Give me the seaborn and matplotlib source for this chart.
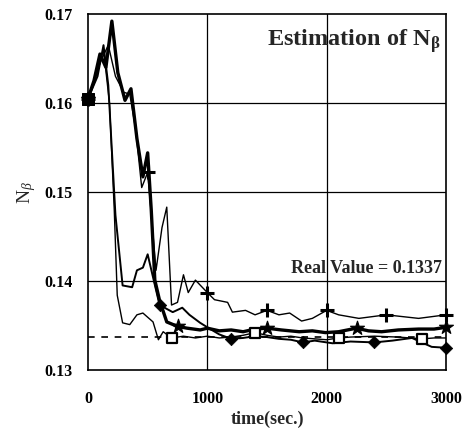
import numpy as np
import pandas as pd
import matplotlib
matplotlib.use("Agg")
import matplotlib.pyplot as plt
import seaborn as sns

# ---- data ----
plus_t = [0, 50, 100, 170, 230, 300, 350, 400, 450, 500, 540, 570, 620, 660, 700, 750, 800, 840, 900, 1000,
          1060, 1170, 1210, 1320, 1400, 1500, 1600, 1690, 1790, 1880, 2000, 2100, 2270, 2500, 2770, 3000]
plus_y = [0.1605, 0.1625, 0.1645, 0.1665, 0.1630, 0.1612, 0.1610, 0.1570, 0.1505, 0.1522, 0.1460, 0.1412,
          0.1460, 0.1483, 0.1373, 0.1376, 0.1407, 0.1387, 0.1401, 0.1387, 0.1379, 0.1376, 0.1365, 0.1367,
          0.1362, 0.1367, 0.1362, 0.1364, 0.1355, 0.1358, 0.1367, 0.1362, 0.1358, 0.1362, 0.1358, 0.1362]
plus_marks = [0, 500, 1000, 1500, 2000, 2500, 3000]

star_t = [0, 50, 100, 150, 200, 250, 310, 360, 410, 460, 500, 530, 560, 600, 660, 750, 830, 940, 1000,
          1100, 1200, 1300, 1400, 1500, 1620, 1770, 1880, 1990, 2100, 2250, 2350, 2460, 2600, 2770, 2900, 3000]
star_y = [0.1605, 0.1625, 0.1655, 0.1640, 0.1692, 0.1634, 0.1603, 0.1616, 0.1560, 0.1517, 0.1544, 0.1480,
          0.1401, 0.1378, 0.1354, 0.1349, 0.1347, 0.1345, 0.1347, 0.1344, 0.1345, 0.1343, 0.1346, 0.1347,
          0.1345, 0.1343, 0.1344, 0.1342, 0.1343, 0.1347, 0.1344, 0.1343, 0.1345, 0.1346, 0.1346, 0.1348]
star_marks = [0, 750, 1500, 2250, 3000]

diamond_t = [0, 80, 130, 170, 230, 290, 370, 410, 460, 500, 540, 600, 710, 790, 850, 940, 1000, 1100,
             1200, 1300, 1400, 1500, 1600, 1700, 1800, 1900, 2050, 2200, 2400, 2550, 2715, 2880, 3000]
diamond_y = [0.1605, 0.1630, 0.1665, 0.1620, 0.1474, 0.1395, 0.1393, 0.1412, 0.1415, 0.1430, 0.1407,
             0.1373, 0.1365, 0.1370, 0.1362, 0.1353, 0.1348, 0.1340, 0.1335, 0.1336, 0.1338, 0.1337,
             0.1335, 0.1334, 0.1331, 0.1333, 0.1330, 0.1332, 0.1331, 0.1333, 0.1336, 0.1326, 0.1325]
diamond_marks = [0, 600, 1200, 1800, 2400, 3000]

square_t = [0, 80, 130, 180, 220, 245, 290, 350, 410, 460, 545, 590, 630, 700, 800, 900, 1000, 1100,
            1200, 1300, 1400, 1500, 1600, 1700, 1800, 1900, 2000, 2100, 2200, 2400, 2600, 2800, 2900, 3000]
square_y = [0.1605, 0.1635, 0.1660, 0.1600, 0.1480, 0.1384, 0.1353, 0.1351, 0.1362, 0.1364, 0.1354,
            0.1334, 0.1343, 0.1336, 0.1338, 0.1336, 0.1338, 0.1336, 0.1337, 0.1339, 0.1342, 0.1339,
            0.1337, 0.1338, 0.1336, 0.1335, 0.1334, 0.1336, 0.1337, 0.1338, 0.1337, 0.1335, 0.1336, 0.1336]
square_marks = [700, 1400, 2100, 2800]
start_mark = [0]

real_value = 0.1337
x_ticks = [0, 1000, 2000, 3000]
y_ticks = [0.13, 0.14, 0.15, 0.16, 0.17]

# ---- plot ----
sns.set_style("white")
plt.rcParams['font.family'] = ['Liberation Serif', 'DejaVu Serif']
plt.rcParams['mathtext.fontset'] = 'custom'
plt.rcParams['mathtext.rm'] = 'Liberation Serif'
plt.rcParams['mathtext.it'] = 'Liberation Serif:italic'
plt.rcParams['mathtext.bf'] = 'Liberation Serif:bold'

fig = plt.figure(figsize=(4.64, 4.30), dpi=100)
ax = fig.add_axes([88 / 464, 60 / 430, 358 / 464, 356 / 430])

ax.set_xlim(0, 3000)
ax.set_ylim(0.13, 0.17)

# grid
for xv in [1000, 2000]:
    ax.axvline(xv, color='black', lw=0.9, zorder=0)
for yv in [0.14, 0.15, 0.16]:
    ax.axhline(yv, color='black', lw=0.9, zorder=0)
ax.axhline(real_value, color='black', lw=1.2, ls=(0, (4, 4)), zorder=1)

series = [
    (plus_t, plus_y, plus_marks, 1.0, dict(marker='+', s=90, linewidths=2.2, color='black')),
    (star_t, star_y, star_marks, 2.4, dict(marker='*', s=110, color='black', edgecolor='black')),
    (diamond_t, diamond_y, diamond_marks, 1.4, dict(marker='D', s=40, color='black', edgecolor='black')),
    (square_t, square_y, square_marks, 1.0, dict(marker='s', s=45, facecolor='white', edgecolor='black', linewidths=1.6)),
]
for t, y, marks, lw, mk in series:
    df = pd.DataFrame({'t': t, 'y': y})
    sns.lineplot(data=df, x='t', y='y', ax=ax, color='black', lw=lw, estimator=None, sort=False)
    sub = df[df['t'].isin(marks)]
    sns.scatterplot(data=sub, x='t', y='y', ax=ax, zorder=5, clip_on=False, **mk)

# filled start marker (all series coincide at t=0)
df0 = pd.DataFrame({'t': square_t, 'y': square_y})
sns.scatterplot(data=df0[df0['t'].isin(start_mark)], x='t', y='y', ax=ax, marker='s', s=80,
                color='black', edgecolor='black', zorder=6, clip_on=False)

ax.set_xticks(x_ticks)
ax.set_xticks([500, 1500, 2500], minor=True)
ax.set_yticks(y_ticks)
ax.set_yticks([0.135, 0.145, 0.155, 0.165], minor=True)
ax.set_yticklabels([f"{v:.2f}" for v in y_ticks])
ax.tick_params(axis='both', which='major', direction='out', length=8, width=1.0, labelsize=11.5, colors='black')
ax.tick_params(axis='both', which='minor', direction='out', length=4, width=1.0)
ax.tick_params(axis='x', pad=7)
ax.tick_params(axis='y', pad=3)
for lab in ax.get_xticklabels() + ax.get_yticklabels():
    lab.set_fontweight('bold')

for sp in ax.spines.values():
    sp.set_color('black')
    sp.set_linewidth(1.2)

ax.set_xlabel('time(sec.)', fontsize=13, fontweight='bold', labelpad=3)
ax.set_ylabel(r'N$_{\beta}$', fontsize=14, labelpad=5)

ax.text(0.985, 0.925, r'Estimation of N$_{\mathregular{\beta}}$', transform=ax.transAxes,
        ha='right', va='center', fontsize=17.5, fontweight='bold')
ax.text(0.99, 0.285, 'Real Value = 0.1337', transform=ax.transAxes,
        ha='right', va='center', fontsize=13, fontweight='bold')

fig.savefig('out.png', dpi=100)
